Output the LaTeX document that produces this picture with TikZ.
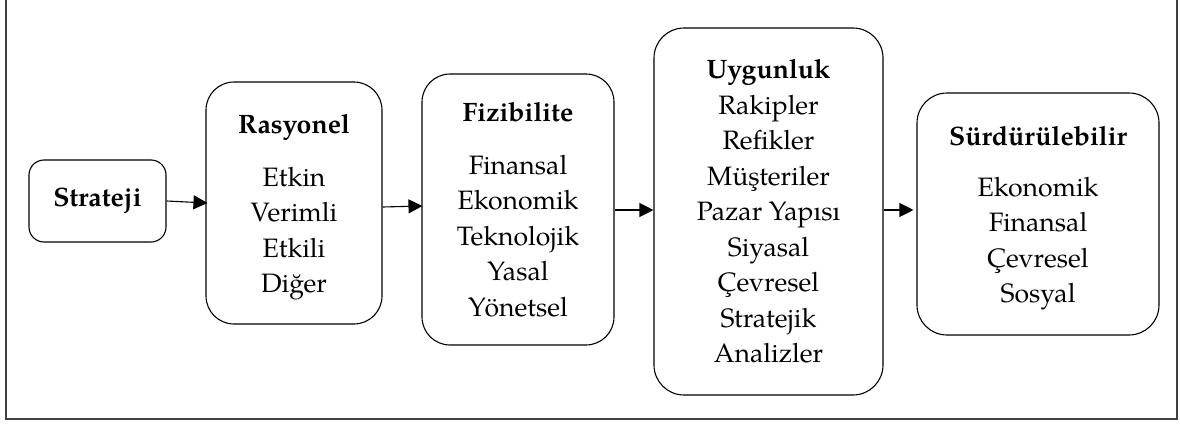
\documentclass[tikz,border=0pt]{standalone}
\usepackage{fontspec}
\setmainfont{texgyrepagella}[Extension=.otf, UprightFont=*-regular, BoldFont=*-bold, ItalicFont=*-italic, BoldItalicFont=*-bolditalic]
\usetikzlibrary{arrows.meta}
\tikzset{
  box/.style={draw=black, line width=1.1pt, align=center, inner sep=0pt,
    font=\fontsize{26.6}{35.5}\selectfont},
  arr/.style={line width=1.1pt, -{Triangle[length=14pt,width=14pt]}},
  frame/.style={line width=1.6pt, draw=black!75}
}
\newcommand{\toppad}[1]{\rule{0pt}{#1}}
\begin{document}
\begin{tikzpicture}[x=1pt,y=-1pt]
\useasboundingbox (0,0) rectangle (1180,423);
\draw[frame] (6,-2) -- (6,419) -- (1177,419) -- (1177,-2);

\node[box, rounded corners=15pt, minimum width=137pt, minimum height=82pt] (strat) at (97.5,201) {\textbf{Strateji}};
\node[box, rounded corners=28pt, minimum width=176pt, minimum height=242pt] (rasy) at (294,203)
  {\toppad{28pt}\textbf{Rasyonel}\\[17pt] Etkin\\ Verimli\\ Etkili\\ Diğer};
\node[box, rounded corners=28pt, minimum width=192pt, minimum height=271pt] (fizi) at (518,209.5)
  {\textbf{Fizibilite}\\[17pt] Finansal\\ Ekonomik\\ Teknolojik\\ Yasal\\ Yönetsel};
\node[box, rounded corners=30pt, minimum width=229pt, minimum height=367pt] (uyg) at (768.5,211.5)
  {\textbf{Uygunluk}\\ Rakipler\\ Refikler\\ Müşteriler\\ Pazar Yapısı\\ Siyasal\\ Çevresel\\ Stratejik\\ Analizler};
\node[box, rounded corners=30pt, minimum width=242pt, minimum height=242pt] (surd) at (1038,214)
  {\toppad{28pt}\textbf{Sürdürülebilir}\\[15pt] Ekonomik\\ Finansal\\ Çevresel\\ Sosyal};

\draw[arr] (strat.east) -- ([xshift=2pt]rasy.west);
\draw[arr] ([yshift=-4pt]rasy.east) -- ([xshift=1pt,yshift=3.5pt]fizi.west);
\draw[arr] ([yshift=-0.5pt]fizi.east) -- ([yshift=1.5pt]uyg.west);
\draw[arr] ([yshift=1.5pt]uyg.east) -- ([xshift=-3pt,yshift=4pt]surd.west);
\end{tikzpicture}
\end{document}
